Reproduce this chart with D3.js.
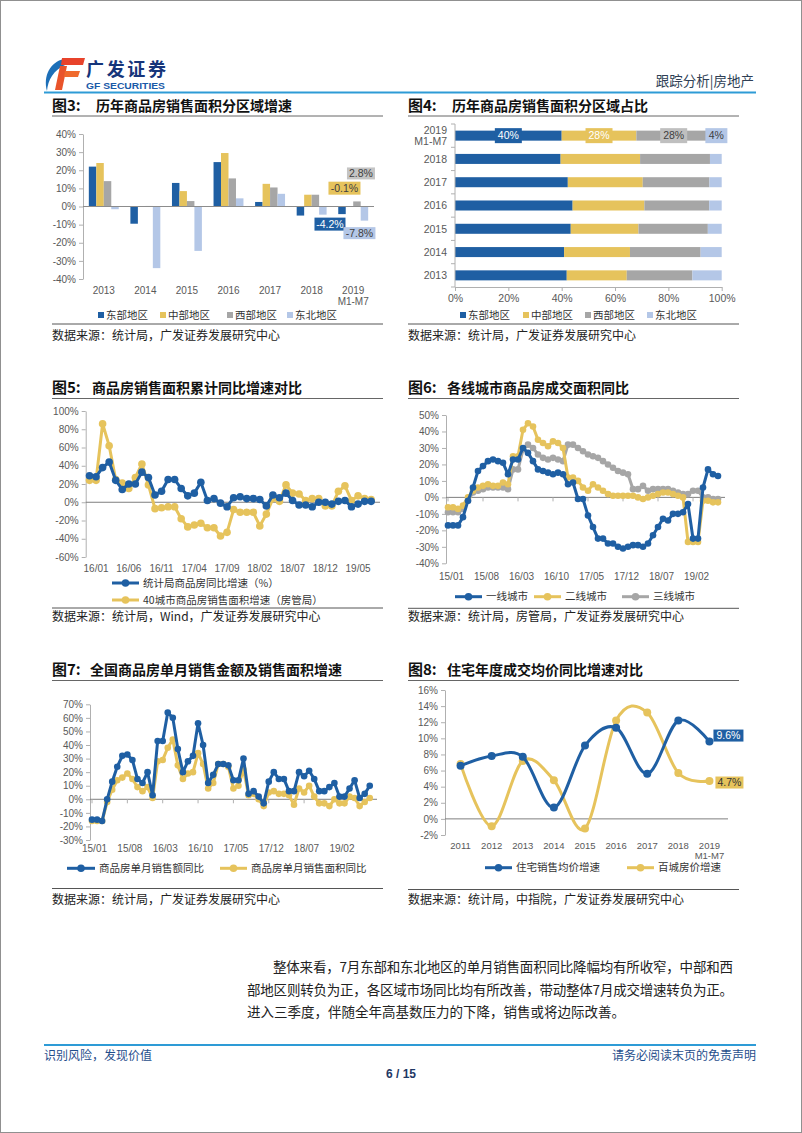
<!DOCTYPE html>
<html><head><meta charset="utf-8">
<script src="https://cdn.jsdelivr.net/npm/d3@7"></script>
<style>body{margin:0;background:#fff}svg{display:block}</style>
</head><body>
<svg id="page" width="802" height="1133"></svg>
<script>
// ---------------- DATA ----------------
const fig3Years = ["2013","2014","2015","2016","2017","2018","2019"];
const fig3Regions = ["东部地区","中部地区","西部地区","东北地区"];
const fig3East = [22,-9.5,13,24.5,2.5,-5,-4.2];
const fig3Central = [24,0.2,8.5,29.5,12.5,6.5,-0.1];
const fig3West = [14,0.3,3,15.5,10.5,6.5,2.8];
const fig3Northeast = [-1.5,-34,-24.5,4.5,7,-4.5,-7.8];
const fig3Ticks = [-40,-30,-20,-10,0,10,20,30,40];

const fig4Years = ["2019","2018","2017","2016","2015","2014","2013"];
const fig4East = [40,39.6,42.3,44.1,43.4,40.9,41.9];
const fig4Central = [28,29.8,28.1,26.9,25.4,24.7,22.5];
const fig4West = [28,26.2,25,24.3,26,26.5,24.6];
const fig4Northeast = [4,4.4,4.6,4.7,5.2,7.9,11];
const fig4Ticks = [0,20,40,60,80,100];

const fig5TickLabels = ["16/01","16/06","16/11","17/04","17/09","18/02","18/07","18/12","19/05"];
const fig5Nbs = [29,28,38,44,24,14,20,20,33,27,8,12,25,25,15,7,10,22,2,4,-1,-5,5,6,4,4,3,-4,8,5,10,2,-3,-3,-5,0,0,-2,1,2,-5,-2,1,1];
const fig5City40 = [24,24,86,62,25,21,15,27,42,19,-7,-6,-5,-5,-18,-27,-25,-23,-28,-28,-37,-33,-8,-11,-11,-11,-26,-13,4,1,19,10,9,2,4,4,-4,-4,12,18,2,7,4,3];
const fig5Ticks = [-60,-40,-20,0,20,40,60,80,100];
const fig5Names = ["统计局商品房同比增速（%）","40城市商品房销售面积增速（房管局）"];

const fig6TickLabels = ["15/01","15/08","16/03","16/10","17/05","17/12","18/07","19/02"];
const fig6Tier1 = [-17,-17,-17,-12,-2,6,16,19,22,23,22,21,14,23,23,30,27,22,17,16,15,14,15,14,8,9,-1,-1,-11,-18,-25,-25,-28,-28,-30,-31,-30,-29,-29,-30,-28,-23,-18,-13,-14,-10,-10,-9,-4,-25,-25,6,17,14,13];
const fig6Tier2 = [-6,-6,-7,-5,0,4,6,7,8,7,7,9,8,25,25,41,45,43,35,33,31,34,33,30,12,12,10,6,4,8,6,4,2,1,1,1,1,1,0,-1,0,1,2,3,3,2,1,0,-27,-27,-27,-2,-2,-3,-3];
const fig6Tier3 = [-9,-9,-9,-7,-2,3,4,5,6,6,6,6,5,17,17,29,32,30,26,24,23,24,23,22,32,32,30,28,26,25,24,22,20,18,16,15,14,5,5,7,4,5,5,5,5,4,3,2,2,4,4,0,0,-1,-1];
const fig6Ticks = [-40,-30,-20,-10,0,10,20,30,40,50];
const fig6Names = ["一线城市","二线城市","三线城市"];

const fig7TickLabels = ["15/01","15/08","16/03","16/10","17/05","17/12","18/07","19/02"];
const fig7Amount = [-15,-15,-16,0,13,24,32,33,29,15,12,20,3,43,43,64,60,37,20,28,32,56,40,12,18,26,26,25,14,14,30,4,6,2,-3,13,20,15,15,6,6,20,17,21,15,6,6,9,12,2,2,8,14,1,4,10];
const fig7Area = [-16,-16,-16,-2,7,14,16,19,15,9,6,9,1,28,29,38,44,25,15,19,20,34,26,8,12,26,26,24,8,10,22,3,4,0,-5,5,6,4,4,3,-4,8,5,10,2,-3,-3,-5,0,-3,-3,2,1,-5,-2,1];
const fig7Ticks = [-30,-20,-10,0,10,20,30,40,50,60,70];
const fig7Names = ["商品房单月销售额同比","商品房单月销售面积同比"];

const fig8Years = ["2011","2012","2013","2014","2015","2016","2017","2018","2019"];
const fig8Resid = [6.6,7.8,7.7,1.4,9.1,11.3,5.6,12.2,9.6];
const fig8Index100 = [6.8,-0.9,7.2,4.8,-1.2,12.2,13.2,5.7,4.7];
const fig8Ticks = [-2,0,2,4,6,8,10,12,14,16];
const fig8Names = ["住宅销售均价增速","百城房价增速"];

const paragraph = [
  "整体来看，7月东部和东北地区的单月销售面积同比降幅均有所收窄，中部和西",
  "部地区则转负为正，各区域市场同比均有所改善，带动整体7月成交增速转负为正。",
  "进入三季度，伴随全年高基数压力的下降，销售或将边际改善。"
];

// ---------------- STYLE ----------------
const svg = d3.select("#page");
const CN = "'Noto Sans CJK SC','Noto Sans',sans-serif";
const EN = "'Liberation Sans',Arial,sans-serif";
const BLUE = "#1f5fa3", GOLD = "#e6c35c", GRAY = "#a6a6a6", LBLUE = "#b4c7e7";
const AX = "#b0b0b0", LAB = "#595959";

svg.append("rect").attr("x",0.5).attr("y",0.5).attr("width",801).attr("height",1132)
  .attr("fill","#fff").attr("stroke","#909090");

// ---------------- HEADER ----------------
const logo = svg.append("g");
logo.append("path").attr("d","M64,59 C50,62 43,76 47,91 C48,80 53,70 67,64 Z").attr("fill","#1d6fb8");
logo.append("path").attr("d","M62,58 L85,58 L83,65 L61,65 Z").attr("fill","#e8432b");
logo.append("path").attr("d","M60,66 L67,66 L62,90 L55,90 Z").attr("fill","#e9542b");
logo.append("path").attr("d","M65,71 L80,71 L78,77 L64,77 Z").attr("fill","#ef6a2d");
svg.append("text").attr("x",86).attr("y",76).attr("font-family",CN).attr("font-weight",700)
  .attr("font-size",18).attr("fill","#16357a").attr("textLength",80).text("广发证券");
svg.append("text").attr("x",86).attr("y",88.5).attr("font-family",EN).attr("font-weight",700)
  .attr("font-size",8.5).attr("fill","#1a5aa8").attr("textLength",79).attr("lengthAdjust","spacingAndGlyphs").text("GF SECURITIES");
svg.append("text").attr("x",754).attr("y",86).attr("text-anchor","end").attr("font-family",CN)
  .attr("font-size",13.5).attr("fill","#2f3f55").text("跟踪分析|房地产");
svg.append("line").attr("x1",44).attr("x2",756).attr("y1",92.5).attr("y2",92.5).attr("stroke","#2e9bd6").attr("stroke-width",2);

// ---------------- helpers ----------------
function title(x, y, num, rest, off) {
  const t = svg.append("text").attr("x",x).attr("y",y).attr("font-family",CN).attr("font-weight",700).attr("fill","#111");
  t.append("tspan").attr("font-size",15).text("图"+num+":");
  t.append("tspan").attr("x",x+off).attr("font-size",14).text(rest);
}
function hline(x1,x2,y,color,w){ svg.append("line").attr("x1",x1).attr("x2",x2).attr("y1",y).attr("y2",y).attr("stroke",color).attr("stroke-width",w||1); }
function source(x,y,txt){ svg.append("text").attr("x",x).attr("y",y).attr("font-family",CN).attr("font-size",12).attr("fill","#222").text(txt); }
function styleAxis(g){
  g.select(".domain").attr("stroke",AX);
  g.selectAll(".tick line").attr("stroke",AX);
  g.selectAll(".tick text").attr("font-family",EN).attr("font-size",10).attr("fill",LAB);
}
function yAxis(scale, ticks, x, fmt){
  const g = svg.append("g").attr("transform",`translate(${x},0)`)
    .call(d3.axisLeft(scale).tickValues(ticks).tickFormat(fmt).tickSize(4).tickSizeOuter(0).tickPadding(3));
  styleAxis(g); return g;
}
function legendLine(x, y, color, label, len){
  len = len || 27;
  svg.append("line").attr("x1",x).attr("x2",x+len).attr("y1",y).attr("y2",y).attr("stroke",color).attr("stroke-width",3);
  svg.append("circle").attr("cx",x+len/2).attr("cy",y).attr("r",3.8).attr("fill",color);
  svg.append("text").attr("x",x+len+4).attr("y",y).attr("dy","0.36em").attr("font-family",CN).attr("font-size",10.5).attr("fill","#333").text(label);
}
function legendSquare(x, y, color, label){
  svg.append("rect").attr("x",x).attr("y",y-3).attr("width",6).attr("height",6).attr("fill",color);
  svg.append("text").attr("x",x+8).attr("y",y).attr("dy","0.36em").attr("font-family",CN).attr("font-size",10.5).attr("fill","#333").text(label);
}
function labelBox(cx, cy, txt, fill, color, w, h){
  svg.append("rect").attr("x",cx-w/2).attr("y",cy-h/2).attr("width",w).attr("height",h).attr("fill",fill);
  svg.append("text").attr("x",cx).attr("y",cy).attr("dy","0.36em").attr("text-anchor","middle")
    .attr("font-family",EN).attr("font-size",10.5).attr("fill",color).text(txt);
}
function lineSeries(values, x, y, color, curve, r, w){
  const line = d3.line().x((d,i)=>x(i)).y(d=>y(d));
  if (curve) line.curve(curve);
  svg.append("path").datum(values).attr("d",line).attr("fill","none").attr("stroke",color)
    .attr("stroke-width",w||3).attr("stroke-linejoin","round");
  svg.append("g").selectAll("circle").data(values).join("circle")
    .attr("cx",(d,i)=>x(i)).attr("cy",d=>y(d)).attr("r",r||3.4).attr("fill",color);
}
const pct = d=>d+"%";

// ---------------- FIG 3 ----------------
title(52,110.5,"3","历年商品房销售面积分区域增速",44);
hline(52,383,116,"#666",1);
{
  const y = d3.scaleLinear().domain([-40,40]).range([279,134]);
  const x = d3.scaleBand().domain(fig3Years).range([83,374]).paddingInner(0.28).paddingOuter(0.14);
  const sub = d3.scaleBand().domain(fig3Regions).range([0,x.bandwidth()]);
  const series = [fig3East,fig3Central,fig3West,fig3Northeast];
  const colors = [BLUE,GOLD,GRAY,LBLUE];
  yAxis(y, fig3Ticks, 83, pct);
  series.forEach((vals,si)=>{
    svg.append("g").selectAll("rect").data(vals).join("rect")
      .attr("x",(d,i)=>x(fig3Years[i])+sub(fig3Regions[si]))
      .attr("width",sub.bandwidth())
      .attr("y",d=>y(Math.max(0,d))).attr("height",d=>Math.abs(y(d)-y(0)))
      .attr("fill",colors[si]);
  });
  hline(83,374,y(0),"#8c8c8c",1);
  fig3Years.forEach(yr=>{
    const cx = x(yr)+x.bandwidth()/2;
    svg.append("text").attr("x",cx).attr("y",294).attr("text-anchor","middle").attr("font-family",EN).attr("font-size",10).attr("fill",LAB).text(yr);
    if (yr==="2019") svg.append("text").attr("x",cx).attr("y",305).attr("text-anchor","middle").attr("font-family",EN).attr("font-size",10).attr("fill",LAB).text("M1-M7");
  });
  const last = fig3Years.length-1, yr = fig3Years[last];
  const bx = si => x(yr)+sub(fig3Regions[si])+sub.bandwidth()/2;
  labelBox(bx(2)+4, y(fig3West[last])-28, fig3West[last]+"%", "#c4c4c4", "#404040", 28, 12);
  labelBox(bx(1)-5, y(fig3Central[last])-18.5, fig3Central[last]+"%", GOLD, "#404040", 32, 13);
  labelBox(bx(0)-12, y(fig3East[last])+10, fig3East[last]+"%", BLUE, "#fff", 31, 13);
  labelBox(bx(3)-5, y(fig3Northeast[last])+12.5, fig3Northeast[last]+"%", LBLUE, "#404040", 32, 12);
  [98,160,227,287].forEach((lx,i)=>legendSquare(lx,315,colors[i],fig3Regions[i]));
}
hline(52,383,324,"#555",1);
source(52,340,"数据来源：统计局，广发证券发展研究中心");

// ---------------- FIG 4 ----------------
title(408,110.5,"4","历年商品房销售面积分区域占比",44);
hline(408,739,116,"#666",1);
{
  const x = d3.scaleLinear().domain([0,100]).range([455,721.7]);
  const y = d3.scaleBand().domain(fig4Years).range([124,287]).paddingInner(0.57).paddingOuter(0.285);
  const keys = ["e","c","w","n"];
  const table = fig4Years.map((yr,i)=>({year:yr,e:fig4East[i],c:fig4Central[i],w:fig4West[i],n:fig4Northeast[i]}));
  const stack = d3.stack().keys(keys)(table);
  const colors = [BLUE,GOLD,GRAY,LBLUE];
  stack.forEach((layer,li)=>{
    svg.append("g").selectAll("rect").data(layer).join("rect")
      .attr("x",d=>x(d[0])).attr("width",d=>x(d[1])-x(d[0]))
      .attr("y",d=>y(d.data.year)).attr("height",y.bandwidth()).attr("fill",colors[li]);
  });
  svg.append("line").attr("x1",455).attr("x2",455).attr("y1",124).attr("y2",287).attr("stroke",AX);
  const step = y.step();
  for (let k=0;k<=fig4Years.length;k++){ const yy = 124+k*step; hline(451,455,yy,AX,1); }
  const gx = svg.append("g").attr("transform","translate(0,287)")
    .call(d3.axisBottom(x).tickValues(fig4Ticks).tickFormat(pct).tickSize(4).tickSizeOuter(0).tickPadding(4));
  styleAxis(gx);
  gx.selectAll(".tick text").attr("font-size",10.5);
  fig4Years.forEach(yr=>{
    const cy = y(yr)+y.bandwidth()/2;
    if (yr==="2019"){
      svg.append("text").attr("x",447).attr("y",cy-5.5).attr("dy","0.36em").attr("text-anchor","end").attr("font-family",EN).attr("font-size",10.5).attr("fill",LAB).text("2019");
      svg.append("text").attr("x",447).attr("y",cy+5.5).attr("dy","0.36em").attr("text-anchor","end").attr("font-family",EN).attr("font-size",10.5).attr("fill",LAB).text("M1-M7");
    } else {
      svg.append("text").attr("x",447).attr("y",cy).attr("dy","0.36em").attr("text-anchor","end").attr("font-family",EN).attr("font-size",10.5).attr("fill",LAB).text(yr);
    }
  });
  const boxFill = [BLUE,GOLD,"#bfbfbf",LBLUE], txtCol = ["#fff","#fff","#404040","#404040"];
  const cy = y("2019")+y.bandwidth()/2;
  stack.forEach((layer,li)=>{
    const d = layer[0];
    const v = d[1]-d[0];
    labelBox(x((d[0]+d[1])/2), cy, Math.round(v)+"%", boxFill[li], txtCol[li], li===3?22:27, 15);
  });
  const names = ["东部地区","中部地区","西部地区","东北地区"];
  [460,523,585,647].forEach((lx,i)=>legendSquare(lx,315,colors[i],names[i]));
}
hline(408,739,324,"#555",1);
source(408,340,"数据来源：统计局，广发证券发展研究中心");

// ---------------- FIG 5 ----------------
title(52,393,"5","商品房销售面积累计同比增速对比",40);
hline(52,383,398.5,"#666",1);
{
  const y = d3.scaleLinear().domain([-60,100]).range([557,411]);
  const x = d3.scaleLinear().domain([0,fig5Nbs.length-1]).range([89.5,89.5+6.55*(fig5Nbs.length-1)]);
  yAxis(y, fig5Ticks, 85.7, pct);
  hline(85.7,380,y(0),"#7f7f7f",1);
  fig5TickLabels.forEach((t,k)=>{
    svg.append("text").attr("x",x(1+k*5)).attr("y",572).attr("text-anchor","middle").attr("font-family",EN).attr("font-size",10).attr("fill",LAB).text(t);
  });
  lineSeries(fig5City40, x, y, GOLD, null, 3.8, 3);
  lineSeries(fig5Nbs, x, y, BLUE, null, 3.8, 3);
  legendLine(112,583,BLUE,fig5Names[0]);
  legendLine(112,600,GOLD,fig5Names[1]);
}
hline(52,383,608,"#555",1);
source(52,621,"数据来源：统计局，Wind，广发证券发展研究中心");

// ---------------- FIG 6 ----------------
title(408,393,"6","各线城市商品房成交面积同比",39);
hline(408,739,398.5,"#666",1);
{
  const y = d3.scaleLinear().domain([-40,50]).range([563.3,415]);
  const x = d3.scaleLinear().domain([0,fig6Tier1.length-1]).range([448,448+5*(fig6Tier1.length-1)]);
  yAxis(y, fig6Ticks, 446, pct);
  hline(446,725,y(0),"#7f7f7f",1);
  fig6TickLabels.forEach((t,k)=>{
    const px = x(k*7);
    svg.append("line").attr("x1",px).attr("x2",px).attr("y1",y(0)).attr("y2",y(0)+4).attr("stroke",AX);
    svg.append("text").attr("x",px+3.5).attr("y",580).attr("text-anchor","middle").attr("font-family",EN).attr("font-size",10).attr("fill",LAB).text(t);
  });
  lineSeries(fig6Tier3, x, y, GRAY, null, 3.3, 3);
  lineSeries(fig6Tier2, x, y, GOLD, null, 3.3, 3);
  lineSeries(fig6Tier1, x, y, BLUE, null, 3.3, 3);
  legendLine(455,596.7,BLUE,fig6Names[0]);
  legendLine(534,596.7,GOLD,fig6Names[1]);
  legendLine(622,596.7,GRAY,fig6Names[2]);
}
hline(408,739,608.3,"#555",1);
source(408,621,"数据来源：统计局，房管局，广发证券发展研究中心");

// ---------------- FIG 7 ----------------
title(52,675,"7","全国商品房单月销售金额及销售面积增速",38);
hline(52,383,680.5,"#666",1);
{
  const y = d3.scaleLinear().domain([-30,70]).range([840,704.3]);
  const x = d3.scaleLinear().domain([0,fig7Amount.length-1]).range([92,92+5.05*(fig7Amount.length-1)]);
  yAxis(y, fig7Ticks, 90, pct);
  hline(90,377,y(0),"#7f7f7f",1);
  fig7TickLabels.forEach((t,k)=>{
    const px = x(k*7);
    svg.append("line").attr("x1",px).attr("x2",px).attr("y1",y(0)).attr("y2",y(0)+4).attr("stroke",AX);
    svg.append("text").attr("x",px+2.5).attr("y",852).attr("text-anchor","middle").attr("font-family",EN).attr("font-size",10).attr("fill",LAB).text(t);
  });
  lineSeries(fig7Area, x, y, GOLD, null, 3.3, 3);
  lineSeries(fig7Amount, x, y, BLUE, null, 3.3, 3);
  legendLine(67,868.3,BLUE,fig7Names[0],28);
  legendLine(220,868.3,GOLD,fig7Names[1],27);
}
hline(52,383,888.5,"#555",1);
source(52,904,"数据来源：统计局，广发证券发展研究中心");

// ---------------- FIG 8 ----------------
title(408,675,"8","住宅年度成交均价同比增速对比",39);
hline(408,739,680.5,"#666",1);
{
  const y = d3.scaleLinear().domain([-2,16]).range([835,690]);
  const xb = d3.scaleBand().domain(fig8Years).range([445,725]);
  const x = i => xb(fig8Years[i])+xb.bandwidth()/2;
  yAxis(y, fig8Ticks, 445, pct);
  hline(445,728,y(0),"#7f7f7f",1);
  fig8Years.forEach((yr,i)=>{
    svg.append("text").attr("x",x(i)).attr("y",848.5).attr("text-anchor","middle").attr("font-family",EN).attr("font-size",9.5).attr("fill",LAB).text(yr);
    if (yr==="2019") svg.append("text").attr("x",x(i)).attr("y",858.5).attr("text-anchor","middle").attr("font-family",EN).attr("font-size",9.5).attr("fill",LAB).text("M1-M7");
  });
  const curve = d3.curveCardinal.tension(0);
  lineSeries(fig8Index100, x, y, GOLD, curve, 4, 3);
  lineSeries(fig8Resid, x, y, BLUE, curve, 4, 3);
  const n = fig8Years.length-1;
  labelBox(x(n)+19, y(fig8Resid[n])-6, fig8Resid[n].toFixed(1)+"%", BLUE, "#fff", 30, 12);
  labelBox(x(n)+20, y(fig8Index100[n])+1.5, fig8Index100[n].toFixed(1)+"%", GOLD, "#333", 28, 12);
  legendLine(485,867.7,BLUE,fig8Names[0]);
  legendLine(627,867.7,GOLD,fig8Names[1]);
}
hline(408,739,889.5,"#555",1);
source(408,904,"数据来源：统计局，中指院，广发证券发展研究中心");

// ---------------- PARAGRAPH ----------------
const pLines = [[273,972,460],[247,995,486],[247,1017,null]];
paragraph.forEach((s,i)=>{
  const t = svg.append("text").attr("x",pLines[i][0]).attr("y",pLines[i][1]).attr("font-family",CN)
    .attr("font-size",13.5).attr("fill","#222").text(s);
  if (pLines[i][2]) t.attr("textLength",pLines[i][2]).attr("lengthAdjust","spacing");
});

// ---------------- FOOTER ----------------
svg.append("line").attr("x1",44).attr("x2",756).attr("y1",1045).attr("y2",1045).attr("stroke","#2e9bd6").attr("stroke-width",2);
svg.append("text").attr("x",44).attr("y",1060).attr("font-family",CN).attr("font-size",12).attr("fill","#1f4e8c").text("识别风险，发现价值");
svg.append("text").attr("x",756).attr("y",1060).attr("text-anchor","end").attr("font-family",CN).attr("font-size",12).attr("fill","#1f4e8c").text("请务必阅读末页的免责声明");
svg.append("text").attr("x",401).attr("y",1078).attr("text-anchor","middle").attr("font-family",EN).attr("font-weight",700).attr("font-size",12).attr("fill","#1f3864").text("6 / 15");
</script>
</body></html>
